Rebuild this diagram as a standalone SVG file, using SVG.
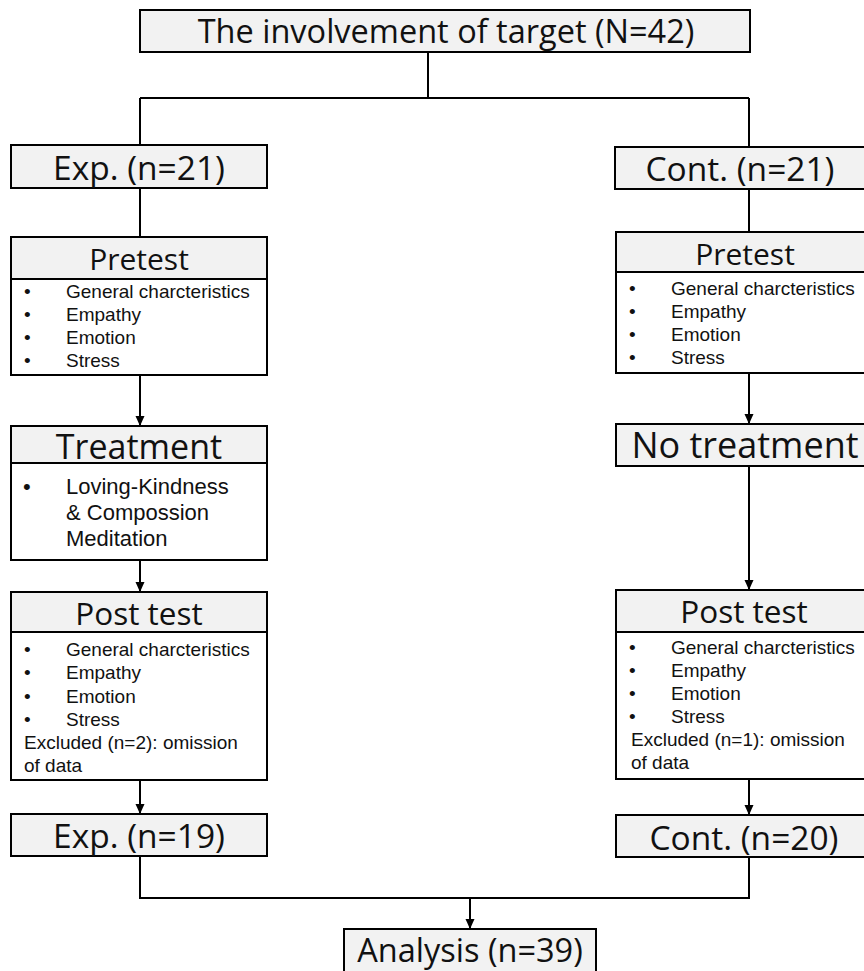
<svg xmlns="http://www.w3.org/2000/svg" width="864" height="971" viewBox="0 0 864 971">
<style>
  .box{fill:#ffffff;stroke:#000;stroke-width:2}
  .hdr{fill:#f2f2f2;stroke:#000;stroke-width:2}
  .ln{fill:none;stroke:#000;stroke-width:2}
  text{font-family:"Open Sans","Noto Sans","DejaVu Sans",sans-serif;fill:#111}
  .c{text-anchor:middle}
  .ttl{font-size:32.5px}
  .grp{font-size:33.5px}
  .pre{font-size:30px}
  .post{font-size:31.5px}
  .trt{font-size:34px}
  .notrt{font-size:36px}
  .ana{font-size:32.5px}
  .b{font-family:"Liberation Sans",Arial,sans-serif;font-size:19px}
  .b22{font-family:"Liberation Sans",Arial,sans-serif;font-size:22px}
</style>
<defs>
  <marker id="arr" markerUnits="userSpaceOnUse" markerWidth="10" markerHeight="10" refX="10" refY="4.5" orient="auto">
    <path d="M0,0 L10,4.5 L0,9 z" fill="#000"/>
  </marker>
</defs>
<rect width="864" height="971" fill="#fff"/>
<g id="connectors">
  <path class="ln" d="M428,52 V98 M140,98 H749 M140,98 V145 M749,98 V147"/>
  <path class="ln" d="M140,188 V237"/>
  <path class="ln" d="M749,189 V232"/>
  <path class="ln" d="M140,375 V426" marker-end="url(#arr)"/>
  <path class="ln" d="M140,560 V592" marker-end="url(#arr)"/>
  <path class="ln" d="M140,780 V814" marker-end="url(#arr)"/>
  <path class="ln" d="M749,373 V424" marker-end="url(#arr)"/>
  <path class="ln" d="M749,466 V590" marker-end="url(#arr)"/>
  <path class="ln" d="M749,779 V815" marker-end="url(#arr)"/>
  <path class="ln" d="M140,856 V898 H749 V857"/>
  <path class="ln" d="M470,898 V929" marker-end="url(#arr)"/>
</g>
<g id="target">
  <rect class="hdr" x="140" y="10" width="610" height="42"/>
  <text class="c ttl" x="446" y="43">The involvement of target (N=42)</text>
</g>
<g id="exp21">
  <rect class="hdr" x="11" y="145" width="256" height="43"/>
  <text class="c grp" x="139" y="180">Exp. (n=21)</text>
</g>
<g id="cont21">
  <rect class="hdr" x="615" y="147" width="260" height="42"/>
  <text class="c grp" x="740" y="181">Cont. (n=21)</text>
</g>
<g id="pretest-exp">
  <rect class="box" x="11" y="237" width="256" height="138"/>
  <rect class="hdr" x="11" y="237" width="256" height="42"/>
  <text class="c pre" x="139" y="270">Pretest</text>
  <text class="b" x="24" y="298">•</text><text class="b" x="66" y="298">General charcteristics</text>
  <text class="b" x="24" y="321">•</text><text class="b" x="66" y="321">Empathy</text>
  <text class="b" x="24" y="344">•</text><text class="b" x="66" y="344">Emotion</text>
  <text class="b" x="24" y="367">•</text><text class="b" x="66" y="367">Stress</text>
</g>
<g id="treatment">
  <rect class="box" x="11" y="426" width="256" height="134"/>
  <rect class="hdr" x="11" y="426" width="256" height="37"/>
  <text class="c trt" x="139" y="459">Treatment</text>
  <text class="b22" x="23" y="494">•</text>
  <text class="b22" x="66" y="494">Loving-Kindness</text>
  <text class="b22" x="66" y="520">&amp; Compossion</text>
  <text class="b22" x="66" y="546">Meditation</text>
</g>
<g id="posttest-exp">
  <rect class="box" x="11" y="592" width="256" height="188"/>
  <rect class="hdr" x="11" y="592" width="256" height="40"/>
  <text class="c post" x="139" y="625">Post test</text>
  <text class="b" x="24" y="656">•</text><text class="b" x="66" y="656">General charcteristics</text>
  <text class="b" x="24" y="679">•</text><text class="b" x="66" y="679">Empathy</text>
  <text class="b" x="24" y="703">•</text><text class="b" x="66" y="703">Emotion</text>
  <text class="b" x="24" y="726">•</text><text class="b" x="66" y="726">Stress</text>
  <text class="b" x="24" y="749">Excluded (n=2): omission</text>
  <text class="b" x="24" y="772">of data</text>
</g>
<g id="exp19">
  <rect class="hdr" x="11" y="814" width="256" height="42"/>
  <text class="c grp" x="139" y="848">Exp. (n=19)</text>
</g>
<g id="pretest-cont">
  <rect class="box" x="616" y="232" width="258" height="141"/>
  <rect class="hdr" x="616" y="232" width="258" height="40"/>
  <text class="c pre" x="745" y="265">Pretest</text>
  <text class="b" x="629" y="295">•</text><text class="b" x="671" y="295">General charcteristics</text>
  <text class="b" x="629" y="318">•</text><text class="b" x="671" y="318">Empathy</text>
  <text class="b" x="629" y="341">•</text><text class="b" x="671" y="341">Emotion</text>
  <text class="b" x="629" y="364">•</text><text class="b" x="671" y="364">Stress</text>
</g>
<g id="no-treatment">
  <rect class="hdr" x="616" y="424" width="258" height="42"/>
  <text class="c notrt" x="745" y="458">No treatment</text>
</g>
<g id="posttest-cont">
  <rect class="box" x="616" y="590" width="258" height="189"/>
  <rect class="hdr" x="616" y="590" width="258" height="42"/>
  <text class="c post" x="744" y="623">Post test</text>
  <text class="b" x="629" y="654">•</text><text class="b" x="671" y="654">General charcteristics</text>
  <text class="b" x="629" y="677">•</text><text class="b" x="671" y="677">Empathy</text>
  <text class="b" x="629" y="700">•</text><text class="b" x="671" y="700">Emotion</text>
  <text class="b" x="629" y="723">•</text><text class="b" x="671" y="723">Stress</text>
  <text class="b" x="631" y="746">Excluded (n=1): omission</text>
  <text class="b" x="631" y="769">of data</text>
</g>
<g id="cont20">
  <rect class="hdr" x="616" y="815" width="258" height="42"/>
  <text class="c grp" x="744" y="850">Cont. (n=20)</text>
</g>
<g id="analysis">
  <rect class="hdr" x="344" y="929" width="252" height="50"/>
  <text class="c ana" x="470" y="962">Analysis (n=39)</text>
</g>
</svg>
